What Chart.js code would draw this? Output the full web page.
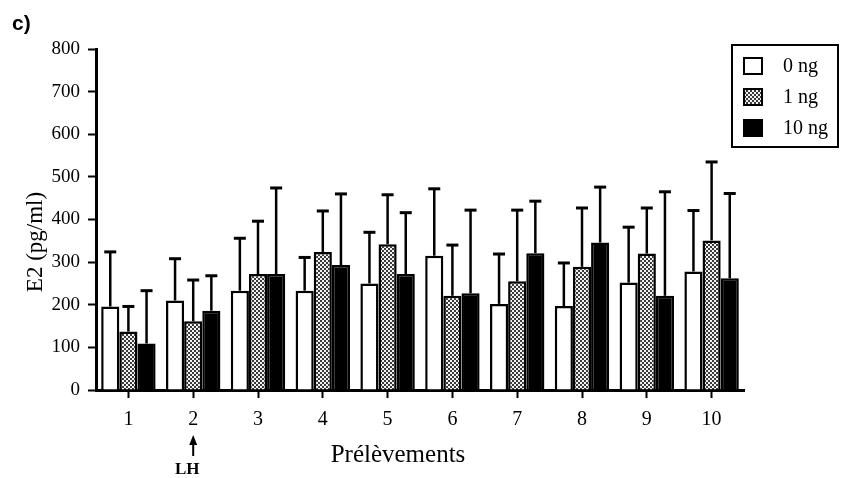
<!DOCTYPE html>
<html>
<head>
<meta charset="utf-8">
<script src="https://cdn.jsdelivr.net/npm/chart.js@4"></script>
<style>
  html,body{margin:0;padding:0;background:#fff;}
  #wrap{width:841px;height:478px;position:relative;}
</style>
</head>
<body>
<div id="wrap"><canvas id="c" width="841" height="478"></canvas></div>
<script>
// ---- data ----
const categories = ['1','2','3','4','5','6','7','8','9','10'];
const seriesLabels = ['0 ng','1 ng','10 ng'];
const mean0  = [196,210,233,233,250,315,202,197,252,278];
const sd0    = [128, 98,123, 78,120,157,117,101,130,143];
const mean1  = [137,161,272,324,342,221,255,289,320,351];
const sd1    = [ 59, 97,124, 96,116,119,167,138,107,184];
const mean10 = [109,186,272,293,272,227,321,346,221,262];
const sd10   = [124, 82,202,167,144,195,122,130,244,199];
const yTicks = [0,100,200,300,400,500,600,700,800];

// checkered pattern for the "1 ng" series
function makePattern(){
  const p = document.createElement('canvas');
  p.width = 4; p.height = 4;
  const g = p.getContext('2d');
  g.fillStyle = '#f2f2f2'; g.fillRect(0,0,4,4);
  g.fillStyle = '#3a3a3a';
  g.fillRect(0,0,2,2); g.fillRect(2,2,2,2);
  return g.createPattern(p,'repeat');
}
const ctx0 = document.getElementById('c').getContext('2d');
const grayPat = makePattern();

const serif = "'Liberation Serif','Times New Roman',serif";

const overlay = {
  id:'overlay',
  afterDatasetsDraw(chart){
    const ctx = chart.ctx;
    const ys = chart.scales.y;
    const sds = [sd0, sd1, sd10];
    ctx.save();
    ctx.strokeStyle = '#000';
    chart.data.datasets.forEach((ds, di) => {
      const meta = chart.getDatasetMeta(di);
      meta.data.forEach((el, i) => {
        const top = ys.getPixelForValue(ds.data[i] + sds[di][i]);
        ctx.lineWidth = 2.5;
        ctx.beginPath();
        ctx.moveTo(el.x, el.y);
        ctx.lineTo(el.x, top);
        ctx.stroke();
        ctx.lineWidth = 3;
        ctx.beginPath();
        ctx.moveTo(el.x - 6, top);
        ctx.lineTo(el.x + 6, top);
        ctx.stroke();
      });
    });
    ctx.restore();
  },
  afterDraw(chart){
    const ctx = chart.ctx;
    const xs = chart.scales.x;
    ctx.save();
    ctx.fillStyle = '#000';
    ctx.strokeStyle = '#000';
    // panel label
    ctx.font = "bold 21px 'Liberation Sans', Arial, sans-serif";
    ctx.textAlign = 'left'; ctx.textBaseline = 'alphabetic';
    ctx.fillText('c)', 12, 30);
    // y title
    ctx.save();
    ctx.translate(36, 242);
    ctx.rotate(-Math.PI/2);
    ctx.font = "23px " + serif;
    ctx.textAlign = 'center'; ctx.textBaseline = 'middle';
    ctx.fillText('E2 (pg/ml)', 0, 0);
    ctx.restore();
    // x title
    ctx.font = "25px " + serif;
    ctx.textAlign = 'center'; ctx.textBaseline = 'middle';
    ctx.fillText('Prélèvements', 398, 455);
    // LH arrow under category 2
    const x2 = xs.getPixelForValue(1);
    ctx.lineWidth = 2;
    ctx.beginPath(); ctx.moveTo(x2, 456); ctx.lineTo(x2, 441); ctx.stroke();
    ctx.beginPath(); ctx.moveTo(x2, 435); ctx.lineTo(x2-4, 445); ctx.lineTo(x2+4, 445); ctx.closePath(); ctx.fill();
    ctx.font = "bold 17px " + serif;
    ctx.textAlign = 'center'; ctx.textBaseline = 'middle';
    ctx.fillText('LH', x2 - 6, 470);
    // legend
    const bx = 732, by = 45, bw = 106, bh = 102;
    ctx.lineWidth = 2;
    ctx.strokeRect(bx, by, bw, bh);
    ctx.font = "20px " + serif;
    ctx.textAlign = 'left'; ctx.textBaseline = 'middle';
    chart.data.datasets.forEach((ds, di) => {
      const cy = 66 + di * 31;
      ctx.fillStyle = ds.backgroundColor;
      ctx.fillRect(744, cy - 8, 18, 16);
      ctx.lineWidth = 2;
      ctx.strokeStyle = '#000';
      ctx.strokeRect(744, cy - 8, 18, 16);
      ctx.fillStyle = '#000';
      ctx.fillText(ds.label, 783, cy + 1);
    });
    ctx.restore();
  }
};

new Chart(ctx0, {
  type:'bar',
  data:{
    labels: categories,
    datasets:[
      {label:seriesLabels[0], data:mean0,  backgroundColor:'#ffffff', borderColor:'#000', borderWidth:2.5},
      {label:seriesLabels[1], data:mean1,  backgroundColor:grayPat,   borderColor:'#000', borderWidth:2.5},
      {label:seriesLabels[2], data:mean10, backgroundColor:'#000000', borderColor:'#000', borderWidth:2.5}
    ]
  },
  options:{
    responsive:false,
    animation:false,
    devicePixelRatio:1,
    layout:{padding:{top:49,right:97,left:0,bottom:0}},
    plugins:{legend:{display:false}, tooltip:{enabled:false}, title:{display:false}},
    datasets:{bar:{categoryPercentage:0.84, barPercentage:1.0, borderSkipped:'bottom'}},
    scales:{
      x:{
        offset:true,
        grid:{display:true, drawOnChartArea:false, drawTicks:true, tickLength:8, tickWidth:2, color:'#000', offset:false},
        border:{display:true, color:'#000', width:3},
        ticks:{color:'#000', font:{family:serif, size:20}, padding:10, maxRotation:0},
        afterFit(s){ s.height = 88; }
      },
      y:{
        min:0, max:800,
        afterBuildTicks(s){ s.ticks = yTicks.map(v => ({value:v})); },
        grid:{display:true, drawOnChartArea:false, drawTicks:true, tickLength:8, tickWidth:2, color:'#000'},
        border:{display:true, color:'#000', width:3},
        ticks:{color:'#000', font:{family:serif, size:19}, padding:8},
        afterFit(s){ s.width = 96; }
      }
    }
  },
  plugins:[overlay]
});
</script>
</body>
</html>
